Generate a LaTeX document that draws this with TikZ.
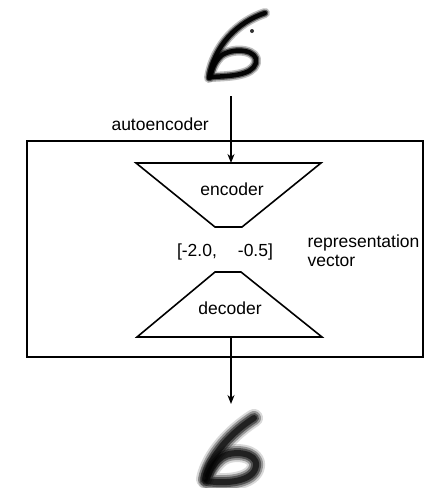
\documentclass[tikz,border=0pt]{standalone}
\usepackage{fontspec}
\setmainfont{Liberation Sans}
\usetikzlibrary{arrows.meta}
\tikzset{
  frame/.style={black, line width=2pt},
  block/.style={black, line width=1.6pt, line join=miter},
  flow/.style={black, line width=2pt, -{Stealth[length=9pt, width=7pt]}},
  ink/.style={black, line width=#1, line cap=round, line join=round},
}
\begin{document}
\begin{tikzpicture}[x=1pt, y=-1pt, font=\fontsize{17.5}{19}\selectfont]
  \useasboundingbox (0,0) rectangle (440,488);
  \def\mx{231}

  % input digit (sharp)
  \foreach \w/\o in {10/0.25, 7/0.5, 4.5/0.95} {
    \draw[ink=\w, opacity=\o] (265,13) .. controls (238,22) and (214,45) .. (209,78);
    \draw[ink=\w, opacity=\o] (211,77) .. controls (228,76) and (252,76) .. (256,63)
      .. controls (259,50) and (235,47) .. (222,55) .. controls (216,60) and (212,68) .. (211,74);
  }
  \fill[black, opacity=0.8] (252,31) circle (2pt);
  \coordinate (digit-in) at (\mx,96);

  % autoencoder frame
  \draw[frame] (27,141) rectangle (423,357);
  \node[anchor=west] (ae) at (108,124) {autoencoder};

  % encoder
  \coordinate (enc-in) at (\mx,163);
  \draw[block] (136,163) -- (321,163) -- (242,227) -- (215,227) -- cycle;
  \node (enc) at (232,189) {encoder};

  % code vector
  \node (code) at (225,252) {[-2.0,\hspace{21pt}-0.5]};
  \node[anchor=west, align=left] (rep) at (304,251) {representation\\vector};

  % decoder
  \draw[block] (215,272) -- (241,272) -- (322,337) -- (137,337) -- cycle;
  \node (dec) at (230,308) {decoder};
  \coordinate (dec-out) at (\mx,337);

  \draw[flow] (digit-in) -- (enc-in);
  \draw[flow] (dec-out) -- (\mx,404) coordinate (digit-out);

  % output digit (blurred)
  \foreach \w/\o in {18/0.15, 14/0.3, 10/0.45, 6/0.6} {
    \draw[ink=\w, opacity=\o] (254,418) .. controls (232,432) and (210,455) .. (205,479);
    \draw[ink=\w, opacity=\o] (207,481) .. controls (225,484) and (254,482) .. (256,466)
      .. controls (258,452) and (232,450) .. (222,457) .. controls (214,463) and (210,470) .. (208,476);
  }
\end{tikzpicture}
\end{document}
